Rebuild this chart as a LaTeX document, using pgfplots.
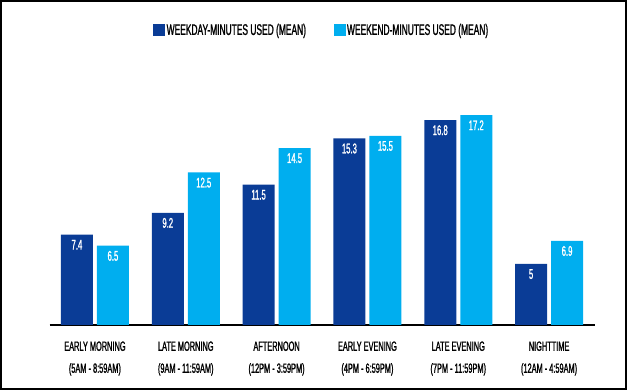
\documentclass[border=0pt]{standalone}
\usepackage{pgfplots}
\pgfplotsset{compat=1.18}
\usepackage{fontspec}
\setmainfont[FakeStretch=0.55,FakeBold=1.2]{Liberation Sans}
\definecolor{dblue}{RGB}{10,60,150}
\definecolor{lblue}{RGB}{0,174,239}
\begin{document}
\begin{tikzpicture}[x=1pt,y=1pt]
\useasboundingbox (0,0) rectangle (627,390);
\begin{axis}[
 at={(49.5pt,65pt)}, anchor=south west, scale only axis,
 width=545pt, height=256.2pt,
 xmin=-0.5, xmax=5.5, ymin=0, ymax=21,
 ybar=4pt, bar width=32pt,
 hide y axis, axis x line*=bottom,
 x axis line style={line width=1.2pt, black},
 xtick={0,...,5}, xtick style={draw=none},
 xticklabels={{EARLY MORNING\\(5AM - 8:59AM)},{LATE MORNING\\(9AM - 11:59AM)},{AFTERNOON\\(12PM - 3:59PM)},{EARLY EVENING\\(4PM - 6:59PM)},{LATE EVENING\\(7PM - 11:59PM)},{NIGHTTIME\\(12AM - 4:59AM)}},
 xticklabel style={align=center, font=\fontsize{13.4}{22}\selectfont, inner sep=0pt, yshift=-12pt},
 nodes near coords,
 nodes near coords style={anchor=north, inner sep=0pt, yshift=-5pt, text=white, font=\fontsize{14}{15}\selectfont},
 /pgf/number format/assume math mode=true,
 legend style={at={(0.499,1.151)}, anchor=center, draw=none, fill=none, legend columns=2, font=\fontsize{15.3}{16}\selectfont, /tikz/every even column/.append style={column sep=26pt}, nodes={inner sep=1.5pt}},
 legend image code/.code={\fill[#1] (0pt,-6pt) rectangle (12pt,6pt);},
]
\addplot[fill=dblue, draw=none] coordinates {(0,7.4) (1,9.2) (2,11.5) (3,15.3) (4,16.8) (5,5)};
\addplot[fill=lblue, draw=none] coordinates {(0,6.5) (1,12.5) (2,14.5) (3,15.5) (4,17.2) (5,6.9)};
\legend{WEEKDAY-MINUTES USED (MEAN),WEEKEND-MINUTES USED (MEAN)}
\end{axis}
\draw[line width=2pt] (1,1) rectangle (626,389);
\end{tikzpicture}
\end{document}
